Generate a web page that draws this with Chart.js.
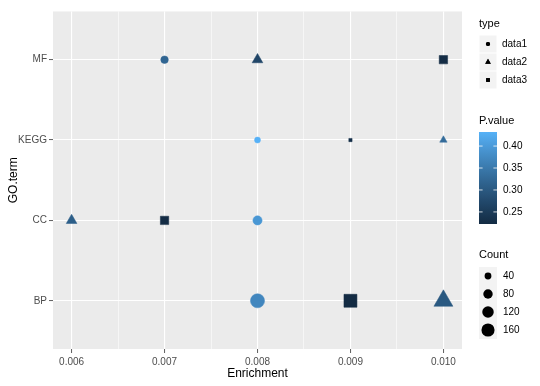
<!DOCTYPE html>
<html>
<head>
<meta charset="utf-8">
<script src="https://cdn.jsdelivr.net/npm/chart.js@4/dist/chart.umd.min.js"></script>
<style>
html,body{margin:0;padding:0;background:#fff;}
#c{display:block;}
</style>
</head>
<body>
<canvas id="c" width="540" height="386"></canvas>
<script>
// ---- data (order of each array follows goTerms) ----
const goTerms = ['BP', 'CC', 'KEGG', 'MF'];
const typeNames = ['data1', 'data2', 'data3'];

const data1Enrichment = [0.008, 0.008, 0.008, 0.007];
const data1Count      = [185, 75, 30, 50];
const data1PValue     = [0.37, 0.395, 0.432, 0.32];

const data2Enrichment = [0.010, 0.006, 0.010, 0.008];
const data2Count      = [185, 55, 25, 55];
const data2PValue     = [0.30, 0.31, 0.33, 0.27];

const data3Enrichment = [0.009, 0.007, 0.009, 0.010];
const data3Count      = [200, 80, 10, 80];
const data3PValue     = [0.2225, 0.225, 0.23, 0.225];

const xTicks = [0.006, 0.007, 0.008, 0.009, 0.010];
const xTickLabels = ['0.006', '0.007', '0.008', '0.009', '0.010'];
const pTicks = [0.25, 0.30, 0.35, 0.40];
const pTickLabels = ['0.25', '0.30', '0.35', '0.40'];
const countTicks = [40, 80, 120, 160];
const countTickLabels = ['40', '80', '120', '160'];

// ---- colour scale (Lab interpolation like ggplot) ----
const P_MIN = 0.2225, P_MAX = 0.432;
const LOW = '#132B43', HIGH = '#56B1F7';
function hexToRgb(h){return [parseInt(h.slice(1,3),16),parseInt(h.slice(3,5),16),parseInt(h.slice(5,7),16)];}
function lin(c){c/=255;return c<=0.04045?c/12.92:Math.pow((c+0.055)/1.055,2.4);}
function unlin(c){c=c<=0.0031308?12.92*c:1.055*Math.pow(c,1/2.4)-0.055;return Math.max(0,Math.min(255,Math.round(c*255)));}
const WX=0.95047,WY=1,WZ=1.08883;
function f(t){return t>0.008856?Math.cbrt(t):(7.787*t+16/116);}
function finv(t){return t*t*t>0.008856?t*t*t:(t-16/116)/7.787;}
function rgbToLab(rgb){const r=lin(rgb[0]),g=lin(rgb[1]),b=lin(rgb[2]);
  const X=(0.4124*r+0.3576*g+0.1805*b)/WX,Y=(0.2126*r+0.7152*g+0.0722*b)/WY,Z=(0.0193*r+0.1192*g+0.9505*b)/WZ;
  const fx=f(X),fy=f(Y),fz=f(Z);return [116*fy-16,500*(fx-fy),200*(fy-fz)];}
function labToRgb(lab){const fy=(lab[0]+16)/116,fx=fy+lab[1]/500,fz=fy-lab[2]/200;
  const X=finv(fx)*WX,Y=finv(fy)*WY,Z=finv(fz)*WZ;
  const r=3.2406*X-1.5372*Y-0.4986*Z,g=-0.9689*X+1.8758*Y+0.0415*Z,b=0.0557*X-0.2040*Y+1.0570*Z;
  return [unlin(r),unlin(g),unlin(b)];}
const LAB_LOW=rgbToLab(hexToRgb(LOW)),LAB_HIGH=rgbToLab(hexToRgb(HIGH));
function pColor(p){let t=(p-P_MIN)/(P_MAX-P_MIN);t=Math.max(0,Math.min(1,t));
  const lab=[0,1,2].map(i=>LAB_LOW[i]+(LAB_HIGH[i]-LAB_LOW[i])*t);const c=labToRgb(lab);
  return 'rgb('+c[0]+','+c[1]+','+c[2]+')';}

// ---- size scale: equivalent circle radius ----
function baseRadius(count){return (Math.sqrt(count)+0.5)/2;}
const SHAPE_FACTOR = {circle:1, triangle:1.555, rect:1.253};

function buildPoints(enr, cnt, pv){
  return goTerms.map((g,i)=>({x:enr[i], y:i+1, count:cnt[i], p:pv[i]}));
}
function makeDataset(label, style, enr, cnt, pv){
  return {
    label: label,
    data: buildPoints(enr, cnt, pv),
    pointStyle: style,
    pointRadius: ctx => baseRadius(ctx.raw.count) * SHAPE_FACTOR[style],
    pointBackgroundColor: ctx => pColor(ctx.raw.p),
    pointBorderColor: ctx => pColor(ctx.raw.p),
    pointBorderWidth: 0.5,
    showLine: false
  };
}

const FONT = "'Liberation Sans', Arial, sans-serif";

const bgPlugin = {
  id: 'panelBg',
  beforeDraw(chart){
    const {ctx, chartArea:a} = chart;
    ctx.save();ctx.fillStyle='#EBEBEB';ctx.fillRect(a.left,a.top,a.right-a.left,a.bottom-a.top);ctx.restore();
  }
};

const legendPlugin = {
  id: 'ggLegends',
  afterDraw(chart){
    const ctx = chart.ctx;
    ctx.save();
    const tx = 479, keyX = 488, labX = 502;
    // ---- type ----
    ctx.fillStyle='#000';ctx.font='11px '+FONT;ctx.textBaseline='middle';ctx.textAlign='left';
    ctx.fillText('type', tx, 24);
    const typeY=[44,62,80];
    const styles=['circle','triangle','rect'];
    typeNames.forEach((n,i)=>{
      ctx.fillStyle='#F3F3F3';ctx.fillRect(keyX-8.5,typeY[i]-8.5,17,17);
      ctx.fillStyle='#000';
      Chart.helpers.drawPoint(ctx,{pointStyle:styles[i],radius:2.1*SHAPE_FACTOR[styles[i]],rotation:0,borderWidth:0},keyX,typeY[i]);
      ctx.fill();
      ctx.font='10px '+FONT;ctx.fillStyle='#000';ctx.fillText(n,labX,typeY[i]);
    });
    // ---- P.value colourbar ----
    ctx.font='11px '+FONT;ctx.fillStyle='#000';
    ctx.fillText('P.value', tx, 121);
    const bx=479,bw=18,btop=132,bbot=224;
    const grad=ctx.createLinearGradient(0,bbot,0,btop);
    for(let k=0;k<=20;k++){grad.addColorStop(k/20,pColor(P_MIN+(P_MAX-P_MIN)*k/20));}
    ctx.fillStyle=grad;ctx.fillRect(bx,btop,bw,bbot-btop);
    ctx.strokeStyle='#fff';ctx.lineWidth=0.8;
    pTicks.forEach((v,i)=>{
      const y=bbot-(v-P_MIN)/(P_MAX-P_MIN)*(bbot-btop);
      ctx.beginPath();ctx.moveTo(bx,y);ctx.lineTo(bx+3.6,y);ctx.moveTo(bx+bw-3.6,y);ctx.lineTo(bx+bw,y);ctx.stroke();
      ctx.fillStyle='#000';ctx.font='10px '+FONT;ctx.fillText(pTickLabels[i],503,y);
    });
    // ---- Count ----
    ctx.font='11px '+FONT;ctx.fillStyle='#000';
    ctx.fillText('Count', tx, 255);
    const cy=[276,294,312,330];
    countTicks.forEach((v,i)=>{
      ctx.fillStyle='#F3F3F3';ctx.fillRect(keyX-9,cy[i]-9,18,18);
      ctx.fillStyle='#000';ctx.beginPath();ctx.arc(keyX,cy[i],baseRadius(v),0,Math.PI*2);ctx.fill();
      ctx.font='10px '+FONT;ctx.fillText(countTickLabels[i],503,cy[i]);
    });
    ctx.restore();
  }
};

const isMajorX = v => xTicks.some(t=>Math.abs(t-v)<1e-9);

new Chart(document.getElementById('c'), {
  type: 'scatter',
  data: {
    datasets: [
      makeDataset(typeNames[0],'circle',data1Enrichment,data1Count,data1PValue),
      makeDataset(typeNames[1],'triangle',data2Enrichment,data2Count,data2PValue),
      makeDataset(typeNames[2],'rect',data3Enrichment,data3Count,data3PValue)
    ]
  },
  options: {
    responsive:false, animation:false, devicePixelRatio:1, events:[],
    layout:{padding:{top:5,right:78,left:0,bottom:0}},
    plugins:{legend:{display:false},tooltip:{enabled:false}},
    scales:{
      x:{
        type:'linear', min:0.0058, max:0.0102,
        afterBuildTicks(s){
          const t=[];for(let v=0.006;v<=0.01+1e-9;v+=0.0005){t.push({value:Math.round(v*1e5)/1e5});}
          s.ticks=t;
        },
        afterFit(s){s.height=37;},
        border:{display:false},
        grid:{
          color:'#FFFFFF',
          lineWidth:ctx=>isMajorX(ctx.tick.value)?1.1:0.55,
          tickColor:ctx=>isMajorX(ctx.tick.value)?'#333333':'rgba(0,0,0,0)',
          tickLength:4, tickWidth:0.8
        },
        ticks:{
          autoSkip:false, maxRotation:0, padding:3, color:'#4D4D4D',
          font:{family:FONT,size:10},
          callback:(v)=>{const i=xTicks.findIndex(t=>Math.abs(t-v)<1e-9);return i>=0?xTickLabels[i]:'';}
        },
        title:{display:true,text:'Enrichment',color:'#000',font:{family:FONT,size:12},padding:{top:0,bottom:5}}
      },
      y:{
        type:'linear', min:0.4, max:4.6,
        afterBuildTicks(s){s.ticks=goTerms.map((g,i)=>({value:i+1}));},
        afterFit(s){s.width=53;},
        border:{display:false},
        grid:{color:'#FFFFFF',lineWidth:1.1,tickColor:'#333333',tickLength:4,tickWidth:0.8},
        ticks:{
          autoSkip:false, padding:2, color:'#4D4D4D', font:{family:FONT,size:10},
          callback:(v)=>goTerms[Math.round(v)-1]
        },
        title:{display:true,text:'GO.term',color:'#000',font:{family:FONT,size:12},padding:{top:6,bottom:0}}
      }
    }
  },
  plugins:[bgPlugin, legendPlugin]
});
</script>
</body>
</html>
